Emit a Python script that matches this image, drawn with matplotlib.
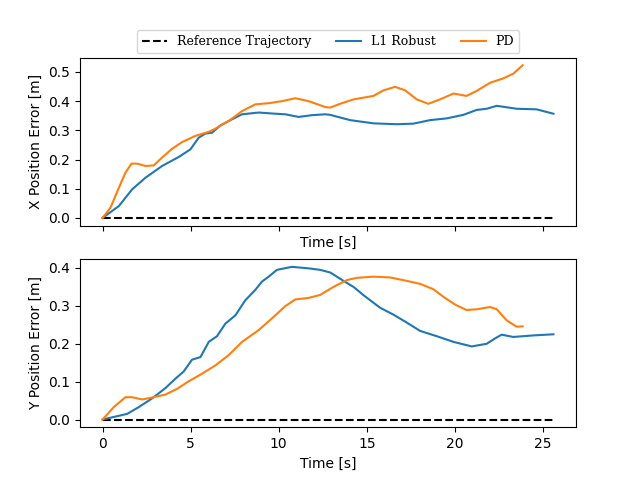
import matplotlib
matplotlib.use("Agg")
import matplotlib.pyplot as plt

# Reference trajectory (zero error)
ref_t = [0.0, 25.6]
ref_err = [0.0, 0.0]

# X position error
l1_x_t = [0.0, 0.93, 1.68, 2.44, 3.38, 4.33, 4.99, 5.46, 5.84, 6.22, 6.69, 7.16, 7.92,
          8.86, 9.81, 10.37, 11.13, 11.89, 12.64, 12.93, 14.06, 15.38, 16.71, 17.65,
          18.59, 19.54, 20.48, 21.24, 21.81, 22.38, 23.51, 24.64, 25.6]
l1_x = [0.0, 0.041, 0.098, 0.138, 0.178, 0.209, 0.235, 0.275, 0.289, 0.292, 0.317, 0.332,
        0.355, 0.361, 0.357, 0.355, 0.346, 0.352, 0.355, 0.353, 0.335, 0.324, 0.321,
        0.323, 0.335, 0.341, 0.353, 0.370, 0.374, 0.384, 0.374, 0.372, 0.357]

pd_x_t = [0.0, 0.45, 0.93, 1.3, 1.64, 1.97, 2.44, 2.91, 3.38, 3.95, 4.52, 5.27, 6.03,
          6.41, 7.16, 7.92, 8.67, 9.43, 10.19, 10.94, 11.7, 12.64, 12.93, 13.49, 14.25,
          15.38, 15.95, 16.61, 17.18, 17.84, 18.5, 19.16, 19.92, 20.67, 21.24, 22.0,
          22.75, 23.32, 23.85]
pd_x = [0.0, 0.035, 0.104, 0.155, 0.186, 0.186, 0.178, 0.180, 0.207, 0.237, 0.260, 0.281,
        0.295, 0.306, 0.332, 0.366, 0.389, 0.393, 0.400, 0.410, 0.400, 0.380, 0.378,
        0.391, 0.406, 0.418, 0.437, 0.449, 0.437, 0.406, 0.391, 0.406, 0.426, 0.418,
        0.435, 0.463, 0.478, 0.494, 0.523]

# Y position error
l1_y_t = [0.0, 0.74, 1.4, 2.06, 2.82, 3.57, 4.14, 4.61, 5.08, 5.56, 6.03, 6.5, 6.97,
          7.54, 8.11, 8.67, 9.05, 9.43, 9.9, 10.75, 11.7, 12.36, 12.93, 13.68, 14.25,
          14.82, 15.76, 16.51, 17.27, 18.03, 18.97, 19.92, 20.96, 21.81, 22.28, 22.66,
          23.32, 24.45, 25.6]
l1_y = [0.0, 0.008, 0.015, 0.033, 0.056, 0.083, 0.108, 0.127, 0.158, 0.165, 0.205, 0.220,
        0.253, 0.275, 0.315, 0.342, 0.364, 0.377, 0.395, 0.403, 0.399, 0.395, 0.388,
        0.366, 0.350, 0.328, 0.295, 0.277, 0.256, 0.234, 0.220, 0.205, 0.193, 0.200,
        0.214, 0.224, 0.218, 0.222, 0.225]

pd_y_t = [0.0, 0.64, 1.3, 1.68, 2.25, 2.91, 3.57, 4.23, 4.89, 5.65, 6.41, 7.16, 7.92,
          8.86, 9.62, 10.37, 10.94, 11.7, 12.36, 13.11, 13.87, 14.44, 15.38, 16.33,
          17.27, 18.03, 18.78, 19.44, 20.07, 20.67, 21.24, 22.0, 22.38, 22.94, 23.51,
          23.85]
pd_y = [0.0, 0.033, 0.059, 0.059, 0.053, 0.059, 0.066, 0.081, 0.101, 0.121, 0.143, 0.170,
        0.205, 0.236, 0.267, 0.299, 0.317, 0.321, 0.329, 0.350, 0.368, 0.374, 0.377,
        0.375, 0.366, 0.358, 0.344, 0.321, 0.302, 0.289, 0.291, 0.297, 0.291, 0.262,
        0.245, 0.246]

fig, (ax1, ax2) = plt.subplots(2, 1, sharex=True, figsize=(6.4, 4.8), dpi=100)

ax1.plot(ref_t, ref_err, 'k--', label='Reference Trajectory')
ax1.plot(l1_x_t, l1_x, color='#1f77b4', label='L1 Robust')
ax1.plot(pd_x_t, pd_x, color='#ff7f0e', label='PD')
ax1.set_ylabel('X Position Error [m]')
ax1.set_xlabel('Time [s]')
ax1.legend(loc='upper center', bbox_to_anchor=(0.5, 1.2), ncol=3,
           prop={'family': 'DejaVu Serif', 'size': 9})

ax2.plot(ref_t, ref_err, 'k--')
ax2.plot(l1_y_t, l1_y, color='#1f77b4')
ax2.plot(pd_y_t, pd_y, color='#ff7f0e')
ax2.set_ylabel('Y Position Error [m]')
ax2.set_xlabel('Time [s]')

fig.savefig('out.png', dpi=100)
